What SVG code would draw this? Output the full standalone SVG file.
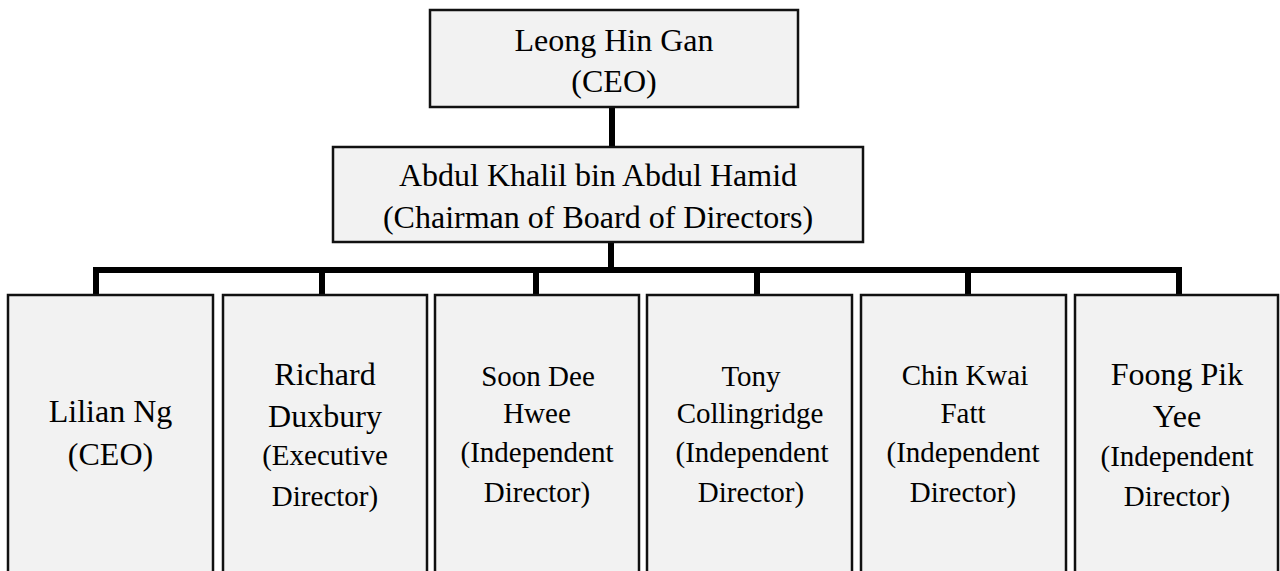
<svg xmlns="http://www.w3.org/2000/svg" width="1280" height="571" viewBox="0 0 1280 571">
<style>
.box{fill:#f2f2f2;stroke:#111;stroke-width:2.5}
text{font-family:'Liberation Serif','Times New Roman',serif;fill:#000;text-anchor:middle}
.b{font-size:32px}
.s{font-size:29px}
.c{stroke:#000;stroke-width:6;fill:none}
</style>
<rect x="0" y="0" width="1280" height="571" fill="#fff"/>
<g id="connectors">
<line class="c" x1="612" y1="107" x2="612" y2="147"/>
<line class="c" x1="611" y1="242" x2="611" y2="270"/>
<polyline class="c" points="96,295 96,270 1179,270 1179,295"/>
<line class="c" x1="322" y1="270" x2="322" y2="295"/>
<line class="c" x1="536" y1="270" x2="536" y2="295"/>
<line class="c" x1="757" y1="270" x2="757" y2="295"/>
<line class="c" x1="968" y1="270" x2="968" y2="295"/>
</g>
<g id="ceo-top">
<rect class="box" x="430" y="10" width="368" height="97"/>
<text class="b" x="614" y="51">Leong Hin Gan</text>
<text class="b" x="614" y="92">(CEO)</text>
</g>
<g id="chairman">
<rect class="box" x="333" y="147" width="530" height="95"/>
<text class="b" x="598" y="186">Abdul Khalil bin Abdul Hamid</text>
<text class="b" x="598" y="228">(Chairman of Board of Directors)</text>
</g>
<g id="lilian">
<rect class="box" x="8" y="295" width="205" height="290"/>
<text class="b" x="110.5" y="422">Lilian Ng</text>
<text class="b" x="110.5" y="465">(CEO)</text>
</g>
<g id="richard">
<rect class="box" x="223" y="295" width="204" height="290"/>
<text class="b" x="325" y="385">Richard</text>
<text class="b" x="325" y="427">Duxbury</text>
<text class="s" x="325" y="465">(Executive</text>
<text class="s" x="325" y="506">Director)</text>
</g>
<g id="soon">
<rect class="box" x="435" y="295" width="204" height="290"/>
<text class="s" x="538" y="386">Soon Dee</text>
<text class="s" x="537" y="423">Hwee</text>
<text class="s" x="537" y="462">(Independent</text>
<text class="s" x="537" y="502">Director)</text>
</g>
<g id="tony">
<rect class="box" x="647" y="295" width="205" height="290"/>
<text class="s" x="751" y="386">Tony</text>
<text class="s" x="750" y="423">Collingridge</text>
<text class="s" x="752" y="462">(Independent</text>
<text class="s" x="751" y="502">Director)</text>
</g>
<g id="chin">
<rect class="box" x="861" y="295" width="205" height="290"/>
<text class="s" x="965" y="385">Chin Kwai</text>
<text class="s" x="963" y="423">Fatt</text>
<text class="s" x="963" y="462">(Independent</text>
<text class="s" x="963" y="502">Director)</text>
</g>
<g id="foong">
<rect class="box" x="1075" y="295" width="203" height="290"/>
<text class="b" x="1177" y="385">Foong Pik</text>
<text class="b" x="1177" y="427">Yee</text>
<text class="s" x="1177" y="466">(Independent</text>
<text class="s" x="1177" y="506">Director)</text>
</g>
</svg>
